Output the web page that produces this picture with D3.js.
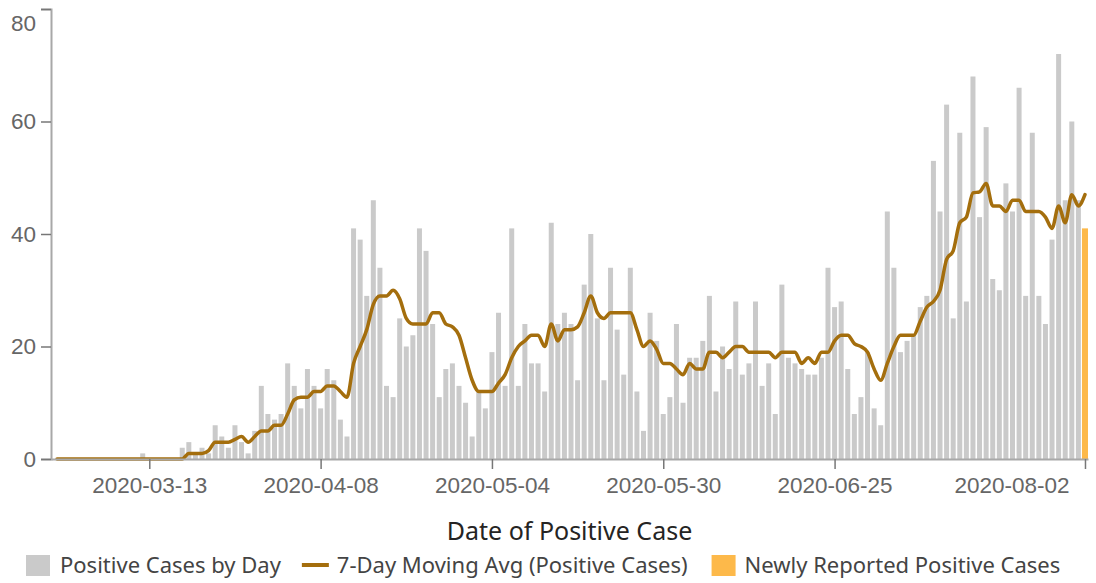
<!DOCTYPE html>
<html>
<head>
<meta charset="utf-8">
<script src="https://cdn.jsdelivr.net/npm/d3@7"></script>
<style>
  body { margin: 0; background: #fff; }
  svg { display: block; font-family: "Segoe UI", "Noto Sans", sans-serif; }
  .axis text { fill: #666; font-size: 22.5px; }
  .axis .domain { stroke: #a8a8a8; stroke-width: 2; }
  .axis .tick line { stroke: #777; stroke-width: 1.5; }
  .axis-title { fill: #252423; font-size: 25px; }
  .legend text { fill: #444; font-size: 22px; }
</style>
</head>
<body>
<svg id="chart"></svg>
<script>
// daily counts starting 2020-02-28 (last day is drawn as "newly reported")
const startDate = '2020-02-28';
const casesByDay = [
    0, 0, 0, 0, 0, 0, 0, 0, 0, 0,
    0, 0, 0, 1, 0, 0, 0, 0, 0, 2,
    3, 1, 2, 1, 6, 4, 2, 6, 3, 1,
    5, 13, 8, 7, 8, 17, 13, 9, 16, 13,
    9, 16, 14, 7, 4, 41, 39, 29, 46, 34,
    13, 11, 25, 20, 22, 41, 37, 24, 11, 16,
    17, 13, 10, 4, 12, 9, 19, 26, 13, 41,
    13, 24, 17, 17, 12, 42, 24, 26, 24, 14,
    31, 40, 25, 14, 34, 23, 15, 34, 12, 5,
    26, 21, 8, 11, 24, 10, 18, 18, 21, 29,
    12, 20, 16, 28, 15, 17, 28, 13, 17, 8,
    31, 18, 17, 16, 15, 15, 18, 34, 27, 28,
    16, 8, 11, 19, 9, 6, 44, 34, 19, 21,
    22, 27, 29, 53, 44, 63, 25, 58, 28, 68,
    43, 59, 32, 30, 49, 44, 66, 29, 58, 29,
    24, 39, 72, 46, 60, 46
];
const newlyReportedDates = ['2020-08-02'];
const newlyReported = [41];

// 7-day moving average, one value per day from startDate
const movingAvg = [
    0, 0, 0, 0, 0, 0, 0, 0, 0, 0,
    0, 0, 0, 0, 0, 0, 0, 0, 0, 0,
    1, 1, 1, 1.5, 3, 3, 3, 3.5, 4, 3,
    4, 5, 5, 6, 6, 8, 10.5, 11, 11, 12,
    12, 13, 13, 12, 11, 17, 20, 23, 27.5, 29,
    29, 30, 28.5, 25, 24, 24, 24, 26, 26, 24,
    23.5, 22, 18, 14, 12, 12, 12, 13.5, 15, 18,
    20, 21, 22, 22, 20, 24, 21, 23, 23, 23.5,
    26, 29, 26, 25, 26, 26, 26, 26, 23, 20,
    21, 19.5, 17, 17, 16, 15, 17, 16, 16, 19,
    19, 18, 19, 20, 20, 19, 19, 19, 19, 18,
    19, 19, 19, 17, 18, 17, 19, 19, 21, 22,
    22, 20.5, 20, 19, 16, 14, 17, 20, 22, 22,
    22, 24.5, 27, 28, 30, 35.5, 37, 42, 43, 47.3,
    47.5, 49, 45, 45, 44, 46, 46, 44, 44, 44,
    43, 41, 45, 42, 47, 45, 47
];

const yTicks = [0, 20, 40, 60, 80];
const xTickLabels = ['2020-03-13', '2020-04-08', '2020-05-04', '2020-05-30', '2020-06-25', '2020-08-02'];
const xTitle = 'Date of Positive Case';
const legendLabels = ['Positive Cases by Day', '7-Day Moving Avg (Positive Cases)', 'Newly Reported Positive Cases'];

class CasesChart {
    constructor(_config) {
        this.config = {
            parentElement: _config.parentElement,
            containerWidth: 1096,
            containerHeight: 583,
            margin: { top: 9, right: 8, bottom: 124, left: 51 },
            barColour: '#cacaca',
            lineColour: '#a46e0d',
            newColour: '#fdb94a'
        };
        this.initVis();
    }

    initVis() {
        let vis = this;
        const parse = d3.timeParse('%Y-%m-%d');
        vis.width = vis.config.containerWidth - vis.config.margin.left - vis.config.margin.right;
        vis.height = vis.config.containerHeight - vis.config.margin.top - vis.config.margin.bottom;

        vis.svg = d3.select(vis.config.parentElement)
            .attr('width', vis.config.containerWidth)
            .attr('height', vis.config.containerHeight);

        vis.chart = vis.svg.append('g')
            .attr('transform', `translate(${vis.config.margin.left},${vis.config.margin.top})`);

        const start = parse(startDate);
        vis.bars = casesByDay.map((v, i) => ({ date: d3.timeDay.offset(start, i), value: v }));
        vis.avg = movingAvg.map((v, i) => ({ date: d3.timeDay.offset(start, i), value: v }));
        vis.newBars = newlyReported.map((v, i) => ({ date: parse(newlyReportedDates[i]), value: v }));
        vis.tickDates = xTickLabels.map(parse);

        const last = vis.newBars[vis.newBars.length - 1].date;
        vis.xScale = d3.scaleTime()
            .domain([d3.timeHour.offset(start, -22), d3.timeHour.offset(last, 11)])
            .range([0, vis.width]);
        vis.yScale = d3.scaleLinear().domain([0, 80]).range([vis.height, 0]);

        vis.xAxis = d3.axisBottom(vis.xScale)
            .tickValues(vis.tickDates)
            .tickFormat(d3.timeFormat('%Y-%m-%d'))
            .tickSize(10)
            .tickPadding(8)
            .tickSizeOuter(0);

        vis.yAxis = d3.axisLeft(vis.yScale)
            .tickValues(yTicks)
            .tickSize(10)
            .tickPadding(5);

        vis.renderVis();
    }

    renderVis() {
        let vis = this;
        const barW = 5;

        vis.chart.selectAll('.bar')
            .data(vis.bars)
            .join('rect')
            .attr('class', 'bar')
            .attr('x', d => vis.xScale(d.date) - barW / 2)
            .attr('width', barW)
            .attr('y', d => vis.yScale(d.value))
            .attr('height', d => vis.height - vis.yScale(d.value))
            .attr('fill', vis.config.barColour);

        vis.chart.selectAll('.new-bar')
            .data(vis.newBars)
            .join('rect')
            .attr('class', 'new-bar')
            .attr('x', d => vis.xScale(d.date) - barW / 2 - 0.5)
            .attr('width', barW + 1)
            .attr('y', d => vis.yScale(d.value))
            .attr('height', d => vis.height - vis.yScale(d.value))
            .attr('fill', vis.config.newColour);

        const line = d3.line()
            .x(d => vis.xScale(d.date))
            .y(d => vis.yScale(d.value))
            .curve(d3.curveMonotoneX);

        vis.chart.append('path')
            .datum(vis.avg)
            .attr('fill', 'none')
            .attr('stroke', vis.config.lineColour)
            .attr('stroke-width', 3.5)
            .attr('stroke-linejoin', 'round')
            .attr('stroke-linecap', 'round')
            .attr('d', line);

        const xAxisG = vis.chart.append('g')
            .attr('class', 'axis x-axis')
            .attr('transform', `translate(0,${vis.height})`)
            .call(vis.xAxis);
        // last label is pulled back inside the frame
        xAxisG.selectAll('.tick text')
            .filter((d, i) => i === vis.tickDates.length - 1)
            .attr('text-anchor', 'end')
            .attr('dx', -16);

        const yAxisG = vis.chart.append('g')
            .attr('class', 'axis y-axis')
            .call(vis.yAxis);
        yAxisG.selectAll('.tick text')
            .filter(d => d === yTicks[yTicks.length - 1])
            .attr('y', 14);

        vis.svg.append('text')
            .attr('class', 'axis-title')
            .attr('text-anchor', 'middle')
            .attr('x', vis.config.margin.left + vis.width / 2)
            .attr('y', 540)
            .text(xTitle);

        // legend
        const legend = vis.svg.append('g')
            .attr('class', 'legend')
            .attr('transform', 'translate(26,565)');
        let xPos = 0;
        const gap = 21;

        legend.append('rect')
            .attr('x', xPos).attr('y', -10).attr('width', 24).attr('height', 21)
            .attr('fill', vis.config.barColour);
        let t = legend.append('text').attr('x', xPos + 34).attr('dy', '0.35em').text(legendLabels[0]);
        xPos += 34 + t.node().getComputedTextLength() + gap;

        legend.append('line')
            .attr('x1', xPos).attr('x2', xPos + 27)
            .attr('stroke', vis.config.lineColour)
            .attr('stroke-width', 4);
        t = legend.append('text').attr('x', xPos + 35).attr('dy', '0.35em').text(legendLabels[1]);
        xPos += 35 + t.node().getComputedTextLength() + gap + 3;

        legend.append('rect')
            .attr('x', xPos).attr('y', -10).attr('width', 24).attr('height', 21)
            .attr('fill', vis.config.newColour);
        legend.append('text').attr('x', xPos + 33).attr('dy', '0.35em').text(legendLabels[2]);
    }
}

new CasesChart({ parentElement: '#chart' });
</script>
</body>
</html>
